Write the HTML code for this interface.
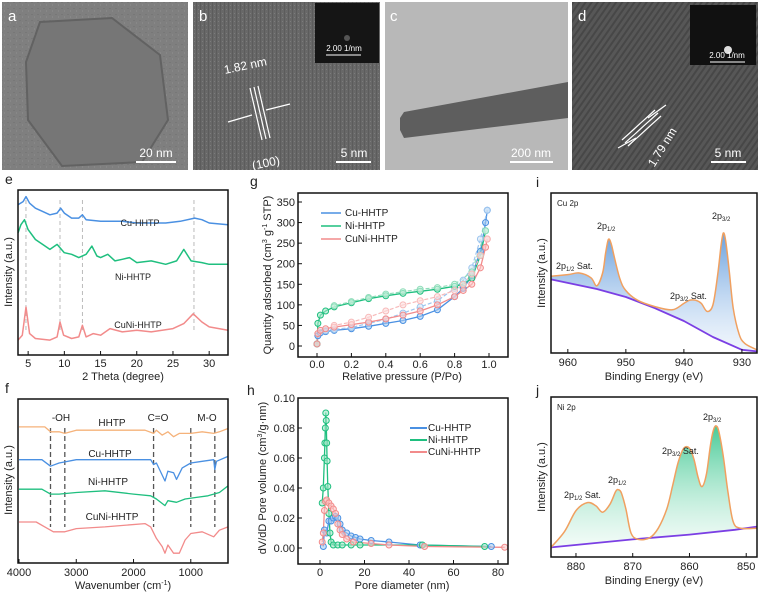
<!DOCTYPE html>
<html><head><meta charset="utf-8">
<style>
html,body{margin:0;padding:0;background:#fff;}
svg{display:block;font-family:"Liberation Sans",sans-serif;}
text{fill:#222;}
</style></head>
<body>
<svg id="fig" width="761" height="595" viewBox="0 0 761 595">
<defs>
<pattern id="noiseA" width="6" height="6" patternUnits="userSpaceOnUse"><rect width="6" height="6" fill="#7f7f7f"/><rect x="1" y="2" width="2" height="1" fill="#777"/><rect x="4" y="4" width="1" height="2" fill="#888"/></pattern>
<pattern id="latB" width="4" height="4" patternUnits="userSpaceOnUse"><rect width="4" height="4" fill="#686868"/><rect x="0" width="1" height="4" fill="#5c5c5c"/><rect x="2" y="1" width="1" height="1" fill="#7c7c7c"/></pattern>
<pattern id="latD" width="5" height="5" patternUnits="userSpaceOnUse" patternTransform="rotate(35)"><rect width="5" height="5" fill="#575757"/><rect width="2" height="5" fill="#474747"/></pattern>
<linearGradient id="gBlue" x1="0" y1="0" x2="0" y2="1"><stop offset="0" stop-color="#4f8fd8" stop-opacity="0.85"/><stop offset="1" stop-color="#dbe9f8" stop-opacity="0.4"/></linearGradient>
<linearGradient id="gGreen" x1="0" y1="0" x2="0" y2="1"><stop offset="0" stop-color="#27c184" stop-opacity="0.85"/><stop offset="1" stop-color="#e0f6ec" stop-opacity="0.4"/></linearGradient>
<clipPath id="clipC"><rect x="385" y="2" width="183" height="168"/></clipPath>
</defs>

<!-- TEM images -->
<g>
<rect x="2" y="2" width="186" height="168" fill="url(#noiseA)"/>
<polygon points="40,22 112,18 160,55 168,120 142,162 62,166 28,120 26,62" fill="#767676" stroke="#626262" stroke-width="2"/>
<text x="8" y="21" font-size="15" style="fill:#fff">a</text>
<line x1="136" y1="162" x2="176" y2="162" stroke="#fff" stroke-width="2"/>
<text x="156" y="157" font-size="12" text-anchor="middle" style="fill:#fff">20 nm</text>
</g>
<g>
<rect x="193" y="2" width="187" height="168" fill="url(#latB)"/>
<rect x="315" y="3" width="64" height="60" fill="#151515"/>
<circle cx="347" cy="38" r="3" fill="#555"/>
<line x1="326" y1="55" x2="361" y2="55" stroke="#fff" stroke-width="1"/>
<text x="344" y="51" font-size="8" text-anchor="middle" style="fill:#fff">2.00 1/nm</text>
<text x="199" y="21" font-size="15" style="fill:#fff">b</text>
<text x="225" y="74" font-size="12" style="fill:#fff" transform="rotate(-12 225 74)">1.82 nm</text>
<line x1="250" y1="88" x2="262" y2="140" stroke="#fff" stroke-width="1.2"/><line x1="254" y1="87" x2="266" y2="139" stroke="#fff" stroke-width="1.2"/><line x1="258" y1="86" x2="270" y2="138" stroke="#fff" stroke-width="1.2"/>
<line x1="228" y1="122" x2="252" y2="115" stroke="#fff" stroke-width="1.2"/><line x1="290" y1="104" x2="266" y2="110" stroke="#fff" stroke-width="1.2"/>
<text x="252" y="170" font-size="12" style="fill:#fff" transform="rotate(-12 252 165)">(100)</text>
<line x1="336" y1="162" x2="371" y2="162" stroke="#fff" stroke-width="2"/>
<text x="354" y="157" font-size="12" text-anchor="middle" style="fill:#fff">5 nm</text>
</g>
<g>
<rect x="385" y="2" width="183" height="168" fill="#b8b8b8"/>
<g clip-path="url(#clipC)">
<polygon points="404,112 568,82 568,118 404,138 400,130 400,118" fill="#5e5e5e"/>
</g>
<text x="390" y="21" font-size="15" style="fill:#fff">c</text>
<line x1="510" y1="162" x2="553" y2="162" stroke="#fff" stroke-width="2"/>
<text x="531" y="157" font-size="12" text-anchor="middle" style="fill:#fff">200 nm</text>
</g>
<g>
<rect x="572" y="2" width="186" height="168" fill="url(#latD)"/>
<rect x="690" y="5" width="66" height="60" fill="#111"/>
<circle cx="728" cy="50" r="4" fill="#ddd"/>
<line x1="710" y1="62" x2="745" y2="62" stroke="#fff" stroke-width="1"/>
<text x="727" y="58" font-size="8" text-anchor="middle" style="fill:#fff">2.00 1/nm</text>
<text x="578" y="21" font-size="15" style="fill:#fff">d</text>
<line x1="622" y1="140" x2="655" y2="110" stroke="#fff" stroke-width="1.2"/><line x1="625" y1="143" x2="658" y2="113" stroke="#fff" stroke-width="1.2"/><line x1="628" y1="146" x2="661" y2="116" stroke="#fff" stroke-width="1.2"/>
<line x1="618" y1="148" x2="636" y2="138" stroke="#fff" stroke-width="1.2"/><line x1="666" y1="105" x2="648" y2="118" stroke="#fff" stroke-width="1.2"/>
<text x="650" y="170" font-size="12" style="fill:#fff" transform="rotate(-58 650 165)">1.79 nm</text>
<line x1="711" y1="162" x2="746" y2="162" stroke="#fff" stroke-width="2"/>
<text x="728" y="157" font-size="12" text-anchor="middle" style="fill:#fff">5 nm</text>
</g>
<g id="charts"></g>
</svg>
<script>
// ---- panel e (XRD) ----
const xrdCuX=[3.6,4.3,4.7,5.2,6,7,8,9,9.5,10,11,12,12.5,13,15,18,20,22,24,26,28,29,30,32.6];
const xrdCuY=[91,93,96,92,89,87,85,86,89,86,83,83,85,82,81,81,80,80,80,81,83,82,80,79];
const xrdNiX=[3.6,4.0,4.5,5,6,7,8,9,10,11,12,13,13.8,14.5,15,16,17,18,19,20,22,24,25.5,26.5,27.5,29,30,32.6];
const xrdNiY=[74,79,82,76,70,67,64,67,62,61,59,61,66,60,59,61,57,58,59,56,57,55,57,64,57,56,55,55];
const xrdCuNiX=[3.6,4.2,4.7,5.2,6,8,9,9.4,9.9,11,12,12.5,13,14,15,16.3,18,20,22,25,26.5,27.8,29,30,32.6];
const xrdCuNiY=[9,12,29,13,10,9,11,20,12,10,11,18,11,13,12,16,14,15,14,16,19,25,20,17,15];
const xrdTicks=[5,10,15,20,25,30];
const xrdGuides=[4.7,9.4,12.5,27.9];
// ---- panel f (FTIR) ----
const irHHTPX=[4000,3550,3450,3300,3200,3000,2500,1800,1650,1600,1500,1400,1300,1200,1000,800,600,500,350];
const irHHTPY=[83,83,80,80,79,81,81,81,79,81,78,80,77,79,79,80,79,80,82];
const irCuX=[4000,3600,3450,3300,3000,2000,1700,1650,1600,1450,1400,1300,1250,1150,1000,800,600,580,550,350];
const irCuY=[63,63,59,61,63,63,63,60,61,50,56,55,51,58,61,62,63,57,62,65];
const irNiX=[4000,3600,3450,3300,3000,2500,2000,1700,1600,1450,1400,1250,1100,900,700,500,350];
const irNiY=[45,45,42,42,43,44,42,41,39,35,38,37,39,40,41,43,47];
const irCuNiX=[4000,3700,3550,3400,3200,3000,2500,1800,1700,1600,1500,1450,1400,1300,1200,1100,1000,800,600,500,350];
const irCuNiY=[25,25,22,19,19,21,22,24,22,15,10,6,11,6,6,14,18,19,16,20,22];
const irTicks=[4000,3000,2000,1000];
const irGuides=[3450,3200,1650,1000,580];
// ---- panel g (isotherms) ----
const isoCuAdsX=[0,0.005,0.02,0.05,0.1,0.2,0.3,0.4,0.5,0.6,0.7,0.8,0.85,0.9,0.95,0.98,0.99];
const isoCuAdsY=[5,25,32,35,38,42,48,55,62,72,88,120,140,170,230,300,330];
const isoCuDesX=[0.99,0.95,0.9,0.85,0.8,0.7,0.6,0.5,0.4,0.3,0.2,0.1,0.05];
const isoCuDesY=[330,260,190,160,140,110,95,80,65,55,45,40,37];
const isoNiAdsX=[0,0.005,0.02,0.05,0.1,0.2,0.3,0.4,0.5,0.6,0.7,0.8,0.85,0.9,0.95,0.98];
const isoNiAdsY=[5,55,75,85,95,105,115,122,128,133,138,145,150,165,220,280];
const isoNiDesX=[0.98,0.9,0.8,0.7,0.6,0.5,0.4,0.3,0.2,0.1];
const isoNiDesY=[280,180,150,142,138,132,126,118,108,98];
const isoCuNiAdsX=[0,0.005,0.02,0.05,0.1,0.2,0.3,0.4,0.5,0.6,0.7,0.8,0.85,0.9,0.95,0.98,0.99];
const isoCuNiAdsY=[5,30,38,42,46,52,58,66,75,85,100,120,135,150,190,240,260];
const isoCuNiDesX=[0.99,0.95,0.9,0.85,0.8,0.7,0.6,0.5,0.4,0.3,0.2,0.1];
const isoCuNiDesY=[260,220,175,150,135,120,110,100,85,70,58,50];
const isoXTicks=[0,0.2,0.4,0.6,0.8,1.0];
const isoYTicks=[0,50,100,150,200,250,300,350];
// ---- panel h (pore size) ----
const poreCuX=[1.5,2,3,4,5,6,7,8,9,10,12,14,16,18,23,31,45,77];
const poreCuY=[0.001,0.012,0.01,0.018,0.018,0.02,0.021,0.02,0.016,0.012,0.01,0.008,0.007,0.006,0.005,0.004,0.002,0.001];
const poreNiX=[1,1.5,2,2.2,2.4,2.6,2.8,3,3.2,3.5,4,4.5,5,6,8,10,14,18,46,74];
const poreNiY=[0.03,0.04,0.06,0.07,0.08,0.09,0.085,0.07,0.058,0.041,0.023,0.01,0.004,0.002,0.002,0.002,0.002,0.002,0.002,0.001];
const poreCuNiX=[1,1.5,2,2.5,3,4,5,6,7,8,9,10,12,15,23,31,47,83];
const poreCuNiY=[0.004,0.01,0.025,0.031,0.032,0.03,0.028,0.026,0.023,0.016,0.012,0.009,0.006,0.004,0.003,0.002,0.001,0.0005];
const poreXTicks=[0,20,40,60,80];
const poreYTicks=[0,0.02,0.04,0.06,0.08,0.10];
// ---- panel i (Cu 2p) ----
const cuEnvX=[962.9,960,958,956,955,954,953.5,953,952.5,952,951,950,948,945,942,940,939,938,937,936,935,934.2,933.6,933.2,932.8,932.2,931.5,930.5,929.5,927.4];
const cuEnvY=[48,49,50,47,42,50,62,71,68,60,46,39,33,29,27,31,33,33,31,26,30,48,67,75,70,52,28,12,6,2];
const cuBgX=[962.9,955,950,945,940,935,930,927.4];
const cuBgY=[46,40,35,28,20,10,2,1];
const cuTicks=[960,950,940,930];
// ---- panel j (Ni 2p) ----
const niEnvX=[884.4,882,880,878,876.5,875.3,874,873,872.5,872,871.2,870.3,869,867,865.5,864,863,862,861,860,859.2,858.5,857.8,857,856.3,855.8,855.3,854.8,854,853.2,852.3,851,848.1];
const niEnvY=[6,16,29,34,32,28,33,41,42,40,30,15,11,12,18,30,44,59,68,68,61,50,44,52,70,79,82,78,62,40,22,18,18];
const niBgX=[884.4,870,860,852,848.1];
const niBgY=[6,11,14,17,19];
const niTicks=[880,870,860,850];

const NS='http://www.w3.org/2000/svg';
const root=document.getElementById('charts');
function mk(tag,attrs,parent){const e=document.createElementNS(NS,tag);for(const k in attrs)e.setAttribute(k,attrs[k]);(parent||root).appendChild(e);return e;}
function lin(d0,d1,r0,r1){return v=>r0+(v-d0)*(r1-r0)/(d1-d0);}
function pathD(xs,ys,sx,sy){return xs.map((x,i)=>(i?'L':'M')+sx(x).toFixed(1)+','+sy(ys[i]).toFixed(1)).join('');}
function smoothD(xs,ys,sx,sy){
  const P=xs.map((x,i)=>[sx(x),sy(ys[i])]);let d='M'+P[0][0].toFixed(1)+','+P[0][1].toFixed(1);
  for(let i=0;i<P.length-1;i++){const p0=P[i-1]||P[i],p1=P[i],p2=P[i+1],p3=P[i+2]||p2;
    const c1=[p1[0]+(p2[0]-p0[0])/6,p1[1]+(p2[1]-p0[1])/6],c2=[p2[0]-(p3[0]-p1[0])/6,p2[1]-(p3[1]-p1[1])/6];
    d+='C'+c1[0].toFixed(1)+','+c1[1].toFixed(1)+' '+c2[0].toFixed(1)+','+c2[1].toFixed(1)+' '+p2[0].toFixed(1)+','+p2[1].toFixed(1);}
  return d;}
function series(xs,ys,sx,sy,color,name,w,dash,smooth){
  const p=mk('path',{d:smooth?smoothD(xs,ys,sx,sy):pathD(xs,ys,sx,sy),fill:'none',stroke:color,'stroke-width':w||1.3,'stroke-dasharray':dash||'none','stroke-linejoin':'round'});
  
  
  return p;
}
function markers(xs,ys,sx,sy,color,name,fill){
  const g=mk('g',{});
  
  
  xs.forEach((x,i)=>{const c=mk('circle',{cx:sx(x),cy:sy(ys[i]),r:3,fill:fill,stroke:color,'stroke-width':1,'fill-opacity':0.6},g);
    
    });
}
function box(x,y,w,h,name){const r=mk('rect',{x:x,y:y,width:w,height:h,fill:'none',stroke:'#111','stroke-width':1.5});
  
  }
function txt(x,y,s,size,name,anchor,rot){const t=mk('text',{x:x,y:y,'font-size':size,'text-anchor':anchor||'start'});
  if(rot)t.setAttribute('transform','rotate('+rot+' '+x+' '+y+')');
  t.innerHTML=s;
  
  return t;}
function xticks(vals,sx,y0,name,fmt,ly){vals.forEach(v=>{mk('line',{x1:sx(v),x2:sx(v),y1:y0,y2:y0-4,stroke:'#111','stroke-width':1});
  txt(sx(v),ly,fmt?fmt(v):v,11,name,'middle');});}
function yticks(vals,sy,x0,name,fmt){vals.forEach(v=>{mk('line',{x1:x0,x2:x0+4,y1:sy(v),y2:sy(v),stroke:'#111','stroke-width':1});
  txt(x0-3,sy(v)+4,fmt?fmt(v):v,11,name,'end');});}

const BLUE='#4a90e2',GREEN='#1fbf7f',PINK='#f28b8b',ORANGE='#f5b27a';

// panel e
{const sx=lin(3.6,32.6,18,228),sy=lin(0,100,355,190);
 xrdGuides.forEach(v=>{const l=mk('line',{x1:sx(v),x2:sx(v),y1:200,y2:330,stroke:'#bbb','stroke-dasharray':'4,3'});
  
  });
 series(xrdCuX,xrdCuY,sx,sy,BLUE,'xrd-cu-hhtp',1.5);
 series(xrdNiX,xrdNiY,sx,sy,GREEN,'xrd-ni-hhtp',1.5);
 series(xrdCuNiX,xrdCuNiY,sx,sy,PINK,'xrd-cuni-hhtp',1.5);
 box(18,190,210,165,'xrd-plot-frame');
 xticks(xrdTicks,sx,355,'xrd-x-tick',null,367);
 txt(123,380,'2 Theta (degree)',11,'xrd-x-axis-title','middle');
 txt(12,272,'Intensity (a.u.)',11,'xrd-y-axis-title','middle',-90);
 txt(5,184,'e',14,'panel-label-e');
 txt(140,226,'Cu-HHTP',9,'xrd-label-cu','middle');
 txt(133,280,'Ni-HHTP',9,'xrd-label-ni','middle');
 txt(138,328,'CuNi-HHTP',9,'xrd-label-cuni','middle');}

// panel f
{const sx=lin(4000,350,19,228),sy=lin(0,100,563,399);
 irGuides.forEach(v=>{const l=mk('line',{x1:sx(v),x2:sx(v),y1:428,y2:527,stroke:'#555','stroke-dasharray':'5,3','stroke-width':1.3});
  
  });
 series(irHHTPX,irHHTPY,sx,sy,ORANGE,'ftir-hhtp');
 series(irCuX,irCuY,sx,sy,BLUE,'ftir-cu-hhtp');
 series(irNiX,irNiY,sx,sy,GREEN,'ftir-ni-hhtp');
 series(irCuNiX,irCuNiY,sx,sy,PINK,'ftir-cuni-hhtp');
 box(18,399,210,164,'ftir-plot-frame');
 xticks(irTicks,sx,563,'ftir-x-tick',null,576);
 txt(123,589,'Wavenumber (cm<tspan font-size="7" dy="-4">-1</tspan><tspan dy="4">)</tspan>',11,'ftir-x-axis-title','middle');
 txt(12,480,'Intensity (a.u.)',11,'ftir-y-axis-title','middle',-90);
 txt(5,393,'f',14,'panel-label-f');
 txt(61,421,'-OH',10,'ftir-label-oh','middle');
 txt(112,426,'HHTP',10,'ftir-label-hhtp','middle');
 txt(158,421,'C=O',10,'ftir-label-co','middle');
 txt(207,421,'M-O',10,'ftir-label-mo','middle');
 txt(110,457,'Cu-HHTP',10,'ftir-label-cu','middle');
 txt(108,485,'Ni-HHTP',10,'ftir-label-ni','middle');
 txt(112,520,'CuNi-HHTP',10,'ftir-label-cuni','middle');}

// panel g
{const sx=lin(0,1,317,489),sy=lin(0,350,346,202);
 series(isoCuAdsX,isoCuAdsY,sx,sy,BLUE,'iso-cu-adsorption');
 series(isoCuDesX,isoCuDesY,sx,sy,'#9cc4ee','iso-cu-desorption',1.2,'4,2');
 series(isoNiAdsX,isoNiAdsY,sx,sy,GREEN,'iso-ni-adsorption');
 series(isoNiDesX,isoNiDesY,sx,sy,'#8fdcb9','iso-ni-desorption',1.2,'4,2');
 series(isoCuNiAdsX,isoCuNiAdsY,sx,sy,PINK,'iso-cuni-adsorption');
 series(isoCuNiDesX,isoCuNiDesY,sx,sy,'#f7b9b9','iso-cuni-desorption',1.2,'4,2');
 markers(isoCuAdsX,isoCuAdsY,sx,sy,BLUE,'iso-cu-ads-markers','#a8cdf2');
 markers(isoCuDesX,isoCuDesY,sx,sy,'#9cc4ee','iso-cu-des-markers','#d6e7f8');
 markers(isoNiAdsX,isoNiAdsY,sx,sy,GREEN,'iso-ni-ads-markers','#a2e6c6');
 markers(isoNiDesX,isoNiDesY,sx,sy,'#8fdcb9','iso-ni-des-markers','#d2f3e3');
 markers(isoCuNiAdsX,isoCuNiAdsY,sx,sy,PINK,'iso-cuni-ads-markers','#fbc9c9');
 markers(isoCuNiDesX,isoCuNiDesY,sx,sy,'#f7b9b9','iso-cuni-des-markers','#fde0e0');
 box(298,193,210,164,'iso-plot-frame');
 xticks(isoXTicks,sx,357,'iso-x-tick',v=>v.toFixed(1),368);
 yticks(isoYTicks,sy,298,'iso-y-tick');
 txt(402,380,'Relative pressure (P/Po)',11,'iso-x-axis-title','middle');
 txt(271,275,'Quantity adsorbed (cm<tspan font-size="7" dy="-4">3</tspan><tspan dy="4"> g</tspan><tspan font-size="7" dy="-4">-1</tspan><tspan dy="4"> STP)</tspan>',11,'iso-y-axis-title','middle',-90);
 txt(250,186,'g',14,'panel-label-g');
 [['Cu-HHTP',BLUE,216],['Ni-HHTP',GREEN,229],['CuNi-HHTP',PINK,242]].forEach(l=>{
  const ln=mk('line',{x1:321,x2:341,y1:l[2]-3,y2:l[2]-3,stroke:l[1],'stroke-width':1.5});
  
  
  txt(345,l[2],l[0],10,'iso-legend-entry');});}

// panel h
{const sx=lin(0,80,320,498),sy=lin(0,0.1,548,398);
 series(poreCuX,poreCuY,sx,sy,BLUE,'pore-cu-hhtp');
 series(poreNiX,poreNiY,sx,sy,GREEN,'pore-ni-hhtp');
 series(poreCuNiX,poreCuNiY,sx,sy,PINK,'pore-cuni-hhtp');
 markers(poreCuX,poreCuY,sx,sy,BLUE,'pore-cu-markers','#a8cdf2');
 markers(poreNiX,poreNiY,sx,sy,GREEN,'pore-ni-markers','#a2e6c6');
 markers(poreCuNiX,poreCuNiY,sx,sy,PINK,'pore-cuni-markers','#fbc9c9');
 box(298,398,210,166,'pore-plot-frame');
 xticks(poreXTicks,sx,564,'pore-x-tick',null,576);
 yticks(poreYTicks,sy,298,'pore-y-tick',v=>v.toFixed(2));
 txt(402,589,'Pore diameter (nm)',11,'pore-x-axis-title','middle');
 txt(266,478,'dV/dD Pore volume (cm<tspan font-size="7" dy="-4">3</tspan><tspan dy="4">/g·nm)</tspan>',11,'pore-y-axis-title','middle',-90);
 txt(247,395,'h',14,'panel-label-h');
 [['Cu-HHTP',BLUE,431],['Ni-HHTP',GREEN,443],['CuNi-HHTP',PINK,455]].forEach(l=>{
  const ln=mk('line',{x1:410,x2:427,y1:l[2]-3,y2:l[2]-3,stroke:l[1],'stroke-width':2});
  
  
  txt(428,l[2],l[0],10,'pore-legend-entry');});}

// xps helper
function xps(envX,envY,bgX,bgY,ticks,d0,d1,y0,y1,grad,name){
 const sx=lin(d0,d1,551,757),sy=lin(0,100,y1,y0);
 const bgRev=bgX.map((x,i)=>[x,bgY[i]]).reverse();
 const fillD=smoothD(envX,envY,sx,sy)+bgRev.map(p=>'L'+sx(p[0]).toFixed(1)+','+sy(p[1]).toFixed(1)).join('')+'Z';
 const f=mk('path',{d:fillD,fill:'url(#'+grad+')',stroke:'none'});
 
 
 series(bgX,bgY,sx,sy,'#7b3fe4',name+'-background',1.8);
 series(envX,envY,sx,sy,'#f0a060',name+'-envelope',1.5,null,true);
 box(551,y0,206,y1-y0,name+'-plot-frame');
 xticks(ticks,sx,y1,name+'-x-tick',null,y1+13);
 txt(654,y1+27,'Binding Energy (eV)',11,name+'-x-axis-title','middle');
 txt(545,(y0+y1)/2,'Intensity (a.u.)',11,name+'-y-axis-title','middle',-90);
}
xps(cuEnvX,cuEnvY,cuBgX,cuBgY,cuTicks,962.9,927.4,193,353,'gBlue','xps-cu');
txt(536,187,'i',14,'panel-label-i');
txt(557,206,'Cu 2p',8,'xps-cu-title');
txt(597,229,'2p<tspan font-size="6" dy="2">1/2</tspan>',9,'xps-cu-label-2p12');
txt(712,219,'2p<tspan font-size="6" dy="2">3/2</tspan>',9,'xps-cu-label-2p32');
txt(556,269,'2p<tspan font-size="6" dy="2">1/2</tspan><tspan dy="-2"> Sat.</tspan>',9,'xps-cu-label-sat12');
txt(670,299,'2p<tspan font-size="6" dy="2">3/2</tspan><tspan dy="-2"> Sat.</tspan>',9,'xps-cu-label-sat32');
xps(niEnvX,niEnvY,niBgX,niBgY,niTicks,884.4,848.1,397,557,'gGreen','xps-ni');
txt(536,395,'j',14,'panel-label-j');
txt(557,410,'Ni 2p',8,'xps-ni-title');
txt(703,420,'2p<tspan font-size="6" dy="2">3/2</tspan>',9,'xps-ni-label-2p32');
txt(662,454,'2p<tspan font-size="6" dy="2">3/2</tspan><tspan dy="-2"> Sat.</tspan>',9,'xps-ni-label-sat32');
txt(608,483,'2p<tspan font-size="6" dy="2">1/2</tspan>',9,'xps-ni-label-2p12');
txt(564,498,'2p<tspan font-size="6" dy="2">1/2</tspan><tspan dy="-2"> Sat.</tspan>',9,'xps-ni-label-sat12');
</script>
</body></html>
